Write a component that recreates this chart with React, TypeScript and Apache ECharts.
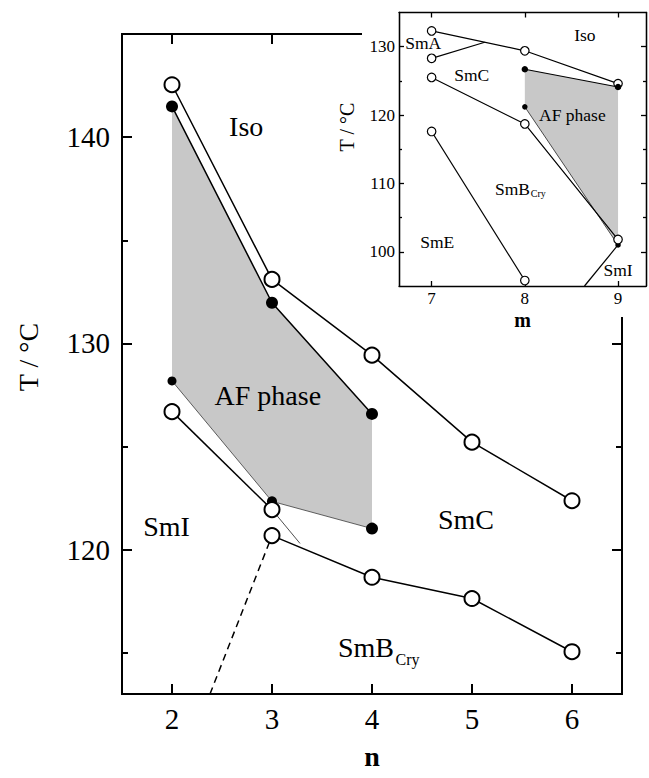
import React, { useEffect, useRef } from "react";
import * as echarts from "echarts";

const FONT = '"Liberation Serif", "Times New Roman", serif';

// ---- main chart data (n, T/°C) ----
const nIsoUpper = [2, 3, 4, 5, 6];
const tIsoUpper = [142.54, 133.1, 129.43, 125.21, 122.37];
const nAFUpper = [2, 3, 4];
const tAFUpper = [141.49, 131.97, 126.58];
const nAFLower = [2, 3, 4];
const tAFLower = [128.18, 122.34, 121.02];
const nSmI = [2, 3];
const tSmI = [126.69, 121.94];
const nSmIExt = [3, 3.28];
const tSmIExt = [121.94, 120.3];
const nSmB = [3, 4, 5, 6];
const tSmB = [120.68, 118.66, 117.63, 115.05];
const nDash = [2.38, 3];
const tDash = [113, 120.68];

const mainXTicks = [2, 3, 4, 5, 6];
const mainYMajor = [120, 130, 140];
const mainYMinor = [115, 125, 135];

const mainLabelNames = ["Iso", "AF phase", "SmI", "SmC", "SmB", "Cry"];
const mainLabelN = [2.742, 2.958, 1.946, 4.94, 3.94, 4.355];
const mainLabelT = [140.51, 127.49, 121.13, 121.45, 115.24, 114.65];

// ---- inset data (m, T/°C) ----
const mIso = [7, 8, 9];
const tIsoInset = [132.3, 129.4, 124.6];
const mSmA = [7, 7.57];
const tSmA = [128.3, 130.65];
const mSmC = [7, 8, 9];
const tSmCInset = [125.5, 118.7, 101.8];
const mAFTop = [8, 9];
const tAFTop = [126.7, 124.1];
const mAFBot = [8, 9];
const tAFBot = [121.2, 101.0];
const mSmE = [7, 8];
const tSmE = [117.6, 95.8];
const mSmIIn = [8.64, 9];
const tSmIIn = [95, 101.0];

const insetXTicks = [7, 8, 9];
const insetYMajor = [100, 110, 120, 130];
const insetYMinor = [105, 115, 125];

const insetLabelNames = ["Iso", "SmA", "SmC", "AF phase", "SmB", "Cry", "SmE", "SmI"];
const insetLabelM = [8.644, 6.91, 7.43, 8.51, 7.867, 8.144, 7.06, 9.0];
const insetLabelT = [131.7, 130.5, 125.9, 120.0, 109.2, 108.5, 101.5, 97.4];

const zip = (a: number[], b: number[]) => a.map((v, i) => [v, b[i]]);

const lowerFilledSizes = [9, 10, 12];

function buildOption() {
  const afPoly = [...zip(nAFUpper, tAFUpper), ...zip(nAFLower, tAFLower).reverse()];
  const afPolyInset = [...zip(mAFTop, tAFTop), ...zip(mAFBot, tAFBot).reverse()];

  const black = "#000";
  const openMain = {
    symbol: "circle",
    symbolSize: 15,
    itemStyle: { color: "#fff", borderColor: black, borderWidth: 2 },
    lineStyle: { color: black, width: 1.5 },
  };
  const openInset = {
    symbol: "circle",
    symbolSize: 8.5,
    itemStyle: { color: "#fff", borderColor: black, borderWidth: 1.2 },
    lineStyle: { color: black, width: 1.2 },
  };

  const polySeries = (pts: number[][], xi: number, yi: number, z: number) => ({
    type: "custom",
    xAxisIndex: xi,
    yAxisIndex: yi,
    z,
    silent: true,
    data: [pts[0]],
    renderItem: (_p: any, api: any) => ({
      type: "polygon",
      shape: { points: pts.map((p) => api.coord(p)) },
      style: { fill: "#c8c8c8", stroke: "none" },
    }),
  });

  const mk = (xs: number[], ys: number[]) => zip(xs, ys);

  const mainAxisLine = { show: true, lineStyle: { color: black, width: 2 } };
  const insetAxisLine = { show: true, lineStyle: { color: black, width: 1.3 } };

  const xAxis = [
    {
      gridIndex: 0, type: "value", min: 1.5, max: 6.5, position: "bottom",
      axisLine: mainAxisLine, splitLine: { show: false },
      axisTick: { show: true, inside: true, length: 10, customValues: mainXTicks, lineStyle: { color: black, width: 2 } },
      axisLabel: { show: true, customValues: mainXTicks, color: black, fontSize: 29, fontFamily: FONT, margin: 10 },
    },
    {
      gridIndex: 0, type: "value", min: 1.5, max: 6.5, position: "top",
      axisLine: mainAxisLine, splitLine: { show: false },
      axisTick: { show: true, inside: true, length: 10, customValues: mainXTicks, lineStyle: { color: black, width: 2 } },
      axisLabel: { show: false },
    },
    {
      gridIndex: 1, type: "value", min: 6.65, max: 9.3, position: "bottom", z: 10,
      axisLine: insetAxisLine, splitLine: { show: false },
      axisTick: { show: true, inside: true, length: 5, customValues: insetXTicks, lineStyle: { color: black, width: 1.3 } },
      axisLabel: { show: true, customValues: insetXTicks, color: black, fontSize: 17, fontFamily: FONT, margin: 4 },
    },
    {
      gridIndex: 1, type: "value", min: 6.65, max: 9.3, position: "top", z: 10,
      axisLine: insetAxisLine, splitLine: { show: false },
      axisTick: { show: true, inside: true, length: 5, customValues: insetXTicks, lineStyle: { color: black, width: 1.3 } },
      axisLabel: { show: false },
    },
  ];

  const yMain = (pos: string, ticks: number[], len: number, labels: boolean) => ({
    gridIndex: 0, type: "value", min: 113, max: 145, position: pos,
    axisLine: mainAxisLine, splitLine: { show: false },
    axisTick: { show: true, inside: true, length: len, customValues: ticks, lineStyle: { color: black, width: 2 } },
    axisLabel: labels
      ? { show: true, customValues: ticks, color: black, fontSize: 29, fontFamily: FONT, margin: 12 }
      : { show: false },
  });
  const yInset = (pos: string, ticks: number[], len: number, labels: boolean) => ({
    gridIndex: 1, type: "value", min: 95, max: 135, position: pos, z: 10,
    axisLine: insetAxisLine, splitLine: { show: false },
    axisTick: { show: true, inside: true, length: len, customValues: ticks, lineStyle: { color: black, width: 1.3 } },
    axisLabel: labels
      ? { show: true, customValues: ticks, color: black, fontSize: 17, fontFamily: FONT, margin: 4 }
      : { show: false },
  });

  const yAxis = [
    yMain("left", mainYMajor, 10, true),
    yMain("left", mainYMinor, 6, false),
    yMain("right", mainYMajor, 10, false),
    yMain("right", mainYMinor, 6, false),
    yInset("left", insetYMajor, 5, true),
    yInset("left", insetYMinor, 3, false),
    yInset("right", insetYMajor, 5, false),
    yInset("right", insetYMinor, 3, false),
  ];

  const mainLabelData = mainLabelNames.map((name, i) => ({
    name,
    value: [mainLabelN[i], mainLabelT[i]],
    label: { fontSize: name === "Cry" ? 16 : 28 },
  }));
  const insetLabelData = insetLabelNames.map((name, i) => ({
    name,
    value: [insetLabelM[i], insetLabelT[i]],
    label: { fontSize: name === "Cry" ? 10 : 17.5 },
  }));

  const labelSeries = (data: any[], xi: number, yi: number, z: number) => ({
    type: "scatter",
    xAxisIndex: xi,
    yAxisIndex: yi,
    z,
    silent: true,
    symbolSize: 0,
    itemStyle: { color: "transparent" },
    label: {
      show: true, position: "inside", formatter: "{b}", color: black, fontFamily: FONT,
      textBorderWidth: 0, opacity: 1,
    },
    data,
  });

  const series: any[] = [
    polySeries(afPoly, 0, 0, 1),
    { type: "line", xAxisIndex: 0, yAxisIndex: 0, z: 2, data: mk(nAFLower, tAFLower), symbol: "circle",
      symbolSize: (_v: any, p: any) => lowerFilledSizes[p.dataIndex],
      itemStyle: { color: black }, lineStyle: { color: "#222", width: 0.7 } },
    { type: "line", xAxisIndex: 0, yAxisIndex: 0, z: 2, data: mk(nSmIExt, tSmIExt), symbol: "none",
      lineStyle: { color: "#222", width: 0.8 } },
    { type: "line", xAxisIndex: 0, yAxisIndex: 0, z: 2, data: mk(nDash, tDash), symbol: "none",
      lineStyle: { color: black, width: 1.5, type: [7, 5] } },
    { type: "line", xAxisIndex: 0, yAxisIndex: 0, z: 2, data: mk(nAFUpper, tAFUpper), symbol: "circle", symbolSize: 12,
      itemStyle: { color: black }, lineStyle: { color: black, width: 1.5 } },
    { type: "line", xAxisIndex: 0, yAxisIndex: 0, z: 2, data: mk(nIsoUpper, tIsoUpper), ...openMain },
    { type: "line", xAxisIndex: 0, yAxisIndex: 0, z: 2, data: mk(nSmI, tSmI), ...openMain },
    { type: "line", xAxisIndex: 0, yAxisIndex: 0, z: 2, data: mk(nSmB, tSmB), ...openMain },
    labelSeries(mainLabelData, 0, 0, 3),

    // inset
    polySeries(afPolyInset, 2, 4, 9),
    { type: "line", xAxisIndex: 2, yAxisIndex: 4, z: 10, data: mk(mAFBot, tAFBot), symbol: "circle", symbolSize: 5.5,
      itemStyle: { color: black }, lineStyle: { color: "#222", width: 0.8 } },
    { type: "line", xAxisIndex: 2, yAxisIndex: 4, z: 10, data: mk(mSmIIn, tSmIIn), symbol: "none",
      lineStyle: { color: black, width: 1.2 } },
    { type: "line", xAxisIndex: 2, yAxisIndex: 4, z: 10, data: mk(mIso, tIsoInset), ...openInset },
    { type: "line", xAxisIndex: 2, yAxisIndex: 4, z: 10,
      data: mk(mSmA, tSmA).map((v, i) => (i === 0 ? { value: v } : { value: v, symbol: "none" })), ...openInset },
    { type: "line", xAxisIndex: 2, yAxisIndex: 4, z: 10, data: mk(mSmC, tSmCInset), ...openInset },
    { type: "line", xAxisIndex: 2, yAxisIndex: 4, z: 10, data: mk(mSmE, tSmE), ...openInset },
    { type: "line", xAxisIndex: 2, yAxisIndex: 4, z: 10, data: mk(mAFTop, tAFTop), symbol: "circle", symbolSize: 6.5,
      itemStyle: { color: black }, lineStyle: { color: black, width: 1.2 } },
    labelSeries(insetLabelData, 2, 4, 11),
  ];

  return {
    animation: false,
    backgroundColor: "#fff",
    grid: [
      { left: 122, top: 34, width: 500, height: 660 },
      { left: 399, top: 12.5, width: 247, height: 273.5, z: 10 },
    ],
    xAxis,
    yAxis,
    series,
    graphic: [
      { type: "rect", z: 5, silent: true, shape: { x: 362, y: 0, width: 287, height: 317 }, style: { fill: "#fff" } },
      { type: "text", z: 20, x: 28, y: 357, rotation: Math.PI / 2,
        style: { text: "T / °C", fontSize: 28, fontFamily: FONT, fill: black, align: "center", verticalAlign: "middle" } },
      { type: "text", z: 20, x: 372, y: 756,
        style: { text: "n", fontSize: 28, fontWeight: "bold", fontFamily: FONT, fill: black, align: "center", verticalAlign: "middle" } },
      { type: "text", z: 20, x: 347, y: 127, rotation: Math.PI / 2,
        style: { text: "T / °C", fontSize: 20, fontFamily: FONT, fill: black, align: "center", verticalAlign: "middle" } },
      { type: "text", z: 20, x: 522.5, y: 320,
        style: { text: "m", fontSize: 20, fontWeight: "bold", fontFamily: FONT, fill: black, align: "center", verticalAlign: "middle" } },
    ],
  };
}

export default function App() {
  const ref = useRef<HTMLDivElement>(null);
  useEffect(() => {
    if (!ref.current) return;
    const chart = echarts.init(ref.current, null, { renderer: "svg" });
    chart.setOption(buildOption() as any);
    return () => chart.dispose();
  }, []);
  return (
    <div
      ref={ref}
      style={{ position: "absolute", left: 0, top: 0, width: 649, height: 778, background: "#fff" }}
    />
  );
}
